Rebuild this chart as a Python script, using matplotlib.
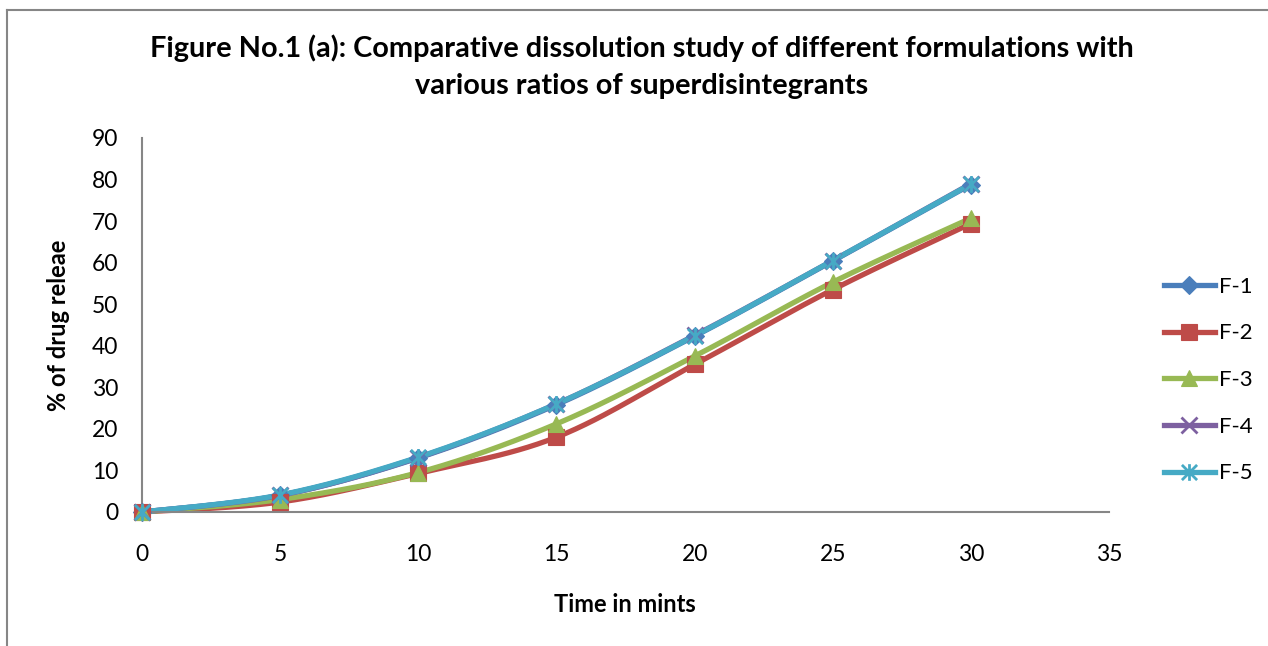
import numpy as np
import matplotlib
matplotlib.use("Agg")
import matplotlib.pyplot as plt
from matplotlib.lines import Line2D
from matplotlib.path import Path

plt.rcParams['font.family'] = ['Lato', 'DejaVu Sans']

time_min = [0, 5, 10, 15, 20, 25, 30]
f1 = [0, 4.0, 13.0, 25.8, 42.3, 60.4, 78.8]
f2 = [0, 2.4, 9.3, 18.0, 35.5, 53.5, 69.4]
f3 = [0, 3.0, 9.5, 21.2, 37.5, 55.3, 70.7]
f4 = [0, 4.0, 13.1, 26.0, 42.5, 60.5, 79.0]
f5 = [0, 4.1, 13.2, 26.0, 42.4, 60.5, 78.9]
labels = ['F-1', 'F-2', 'F-3', 'F-4', 'F-5']
colors = ['#4A7EBB', '#BE4B48', '#98B954', '#7D60A0', '#46AAC5']

# Excel-style star marker: an x with a vertical stroke
star = Path([(-1, -1), (1, 1), (-1, 1), (1, -1), (0, -1.1), (0, 1.1)],
            [Path.MOVETO, Path.LINETO, Path.MOVETO, Path.LINETO, Path.MOVETO, Path.LINETO])
markers = ['D', 's', '^', 'x', star]
msizes = [9, 12, 11, 11, 12]

def smooth(x, y, n=30):
    # Catmull-Rom style bezier smoothing (as Excel "smoothed line")
    x = np.asarray(x, float); y = np.asarray(y, float)
    px = np.concatenate([[x[0]], x, [x[-1]]])
    py = np.concatenate([[y[0]], y, [y[-1]]])
    xs, ys = [], []
    t = np.linspace(0, 1, n)
    for i in range(1, len(px) - 2):
        p0 = np.array([px[i], py[i]]); p3 = np.array([px[i+1], py[i+1]])
        c1 = p0 + (np.array([px[i+1], py[i+1]]) - np.array([px[i-1], py[i-1]])) / 6
        c2 = p3 - (np.array([px[i+2], py[i+2]]) - np.array([px[i], py[i]])) / 6
        b = ((1-t)**3)[:, None]*p0 + (3*(1-t)**2*t)[:, None]*c1 + (3*(1-t)*t**2)[:, None]*c2 + (t**3)[:, None]*p3
        xs.extend(b[:, 0]); ys.extend(b[:, 1])
    return np.array(xs), np.array(ys)

fig = plt.figure(figsize=(12.68, 6.46), dpi=100)
ax = fig.add_axes([142/1268, 1-512/646, (1109-142)/1268, (512-138)/646])

series = [f1, f2, f3, f4, f5]
handles = []
for i, (s, lab, c, m, ms) in enumerate(zip(series, labels, colors, markers, msizes)):
    sx, sy = smooth(time_min, s)
    mew = 2 if i >= 3 else 0.8
    ax.plot(sx, sy, color=c, lw=3.8, solid_capstyle='round', zorder=2, clip_on=False)
    ax.plot(time_min, s, linestyle='none', marker=m, markersize=ms, color=c,
            markeredgewidth=mew, zorder=3, clip_on=False)
    handles.append(Line2D([0], [0], color=c, lw=3.8, marker=m, markersize=ms,
                          markeredgewidth=mew))

ax.set_xlim(0, 35)
ax.set_ylim(0, 90)
ax.set_xticks(range(0, 36, 5))
ax.set_yticks(range(0, 91, 10))
for sp in ['top', 'right']:
    ax.spines[sp].set_visible(False)
for sp in ['left', 'bottom']:
    ax.spines[sp].set_color('#868686')
    ax.spines[sp].set_linewidth(1.5)
ax.tick_params(length=0, labelsize=16.5)
ax.tick_params(axis='x', pad=23)
ax.tick_params(axis='y', pad=17)

fig.text(642/1268, 1-48/646, 'Figure No.1 (a): Comparative dissolution study of different formulations with',
         ha='center', va='center', fontsize=20.8, fontweight='bold')
fig.text(642/1268, 1-86/646, 'various ratios of superdisintegrants',
         ha='center', va='center', fontsize=20.8, fontweight='bold')
fig.text(625/1268, 1-604/646, 'Time in mints', ha='center', va='center', fontsize=17, fontweight='bold')
fig.text(58/1268, 1-325/646, '% of drug releae', ha='center', va='center', fontsize=17,
         fontweight='bold', rotation=90)

leg = fig.legend(handles, labels, loc='center left', bbox_to_anchor=(1155/1268, 1-380/646),
                 frameon=False, fontsize=16, handlelength=2.3, handletextpad=0.2,
                 labelspacing=1.2, borderaxespad=0)

# chart border (left and top visible)
fig.add_artist(Line2D([7/1268, 7/1268], [0, 1-10/646], transform=fig.transFigure,
                      color='#868686', lw=1.5))
fig.add_artist(Line2D([7/1268, 1], [1-10/646, 1-10/646], transform=fig.transFigure,
                      color='#868686', lw=1.5))

fig.savefig('out.png', dpi=100)
